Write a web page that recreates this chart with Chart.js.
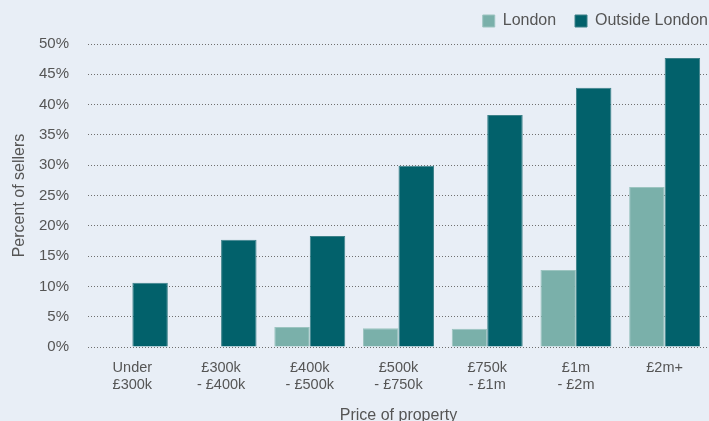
<!DOCTYPE html>
<html>
<head>
<meta charset="utf-8">
<script src="https://cdn.jsdelivr.net/npm/chart.js@4"></script>
<style>
  html, body { margin: 0; padding: 0; background: #e8eef6; overflow: hidden; }
  #wrap { width: 709px; height: 425px; }
</style>
</head>
<body>
<div id="wrap"><canvas id="chart"></canvas></div>
<script>
const categories = [
  ["Under", "£300k"],
  ["£300k", "- £400k"],
  ["£400k", "- £500k"],
  ["£500k", "- £750k"],
  ["£750k", "- £1m"],
  ["£1m", "- £2m"],
  ["£2m+"],
];
const londonValues = [0, 0, 3.3, 3.1, 3.0, 12.7, 26.4];
const outsideValues = [10.6, 17.7, 18.3, 29.9, 38.3, 42.8, 47.7];
const yTicks = [0, 5, 10, 15, 20, 25, 30, 35, 40, 45, 50];

Chart.defaults.font.family = "'Liberation Sans', Arial, sans-serif";
Chart.defaults.color = "#555";

// legend sits flush against the right edge in the original,
// with a bit more room under it than chart.js gives
const legendTweak = {
  id: "legendTweak",
  beforeLayout(chart) {
    const lg = chart.legend;
    if (lg && !lg._tweaked) {
      const fit = lg.fit.bind(lg);
      lg.fit = function () {
        fit();
        this.height += 5;
      };
      lg._tweaked = true;
    }
  },
  afterLayout(chart) {
    chart.legend.left += 9;
    chart.legend.right += 9;
  },
};

new Chart(document.getElementById("chart"), {
  type: "bar",
  data: {
    labels: categories,
    datasets: [
      {
        label: "London  ",
        data: londonValues,
        backgroundColor: "#7ab0aa",
        borderColor: "#9cc4c0",
        borderWidth: 1,
      },
      {
        label: "Outside London",
        data: outsideValues,
        backgroundColor: "#02616b",
        borderColor: "#3d8189",
        borderWidth: 1,
      },
    ],
  },
  plugins: [legendTweak],
  options: {
    responsive: true,
    maintainAspectRatio: false,
    animation: false,
    datasets: {
      bar: { categoryPercentage: 0.8, barPercentage: 1.0 },
    },
    layout: { padding: { top: 3, right: 0, left: 4, bottom: 0 } },
    plugins: {
      legend: {
        position: "top",
        align: "end",
        labels: {
          boxWidth: 12,
          boxHeight: 12,
          font: { size: 16 },
          color: "#555",
          padding: 10,
        },
      },
      tooltip: { enabled: false },
    },
    scales: {
      x: {
        afterFit: (axis) => {
          axis.height = 78;
        },
        grid: { display: false, drawTicks: false },
        border: { display: false },
        ticks: { font: { size: 14.5 }, color: "#555", padding: 12, maxRotation: 0 },
        title: {
          display: true,
          text: "Price of property",
          font: { size: 16 },
          color: "#555",
          padding: { top: 0, bottom: 0 },
        },
      },
      y: {
        min: 0,
        max: 50,
        afterBuildTicks: (axis) => {
          axis.ticks = yTicks.map((v) => ({ value: v }));
        },
        afterFit: (axis) => {
          axis.width = 84;
        },
        grid: {
          color: "#6f6f6f",
          lineWidth: 1,
          drawTicks: false,
        },
        border: { display: false, dash: [1, 2] },
        ticks: {
          font: { size: 15 },
          color: "#555",
          padding: 19,
          callback: (v) => v + "%",
        },
        title: {
          display: true,
          text: "Percent of sellers",
          font: { size: 16 },
          color: "#555",
          padding: { top: 6, bottom: 0 },
        },
      },
    },
  },
});
</script>
</body>
</html>
